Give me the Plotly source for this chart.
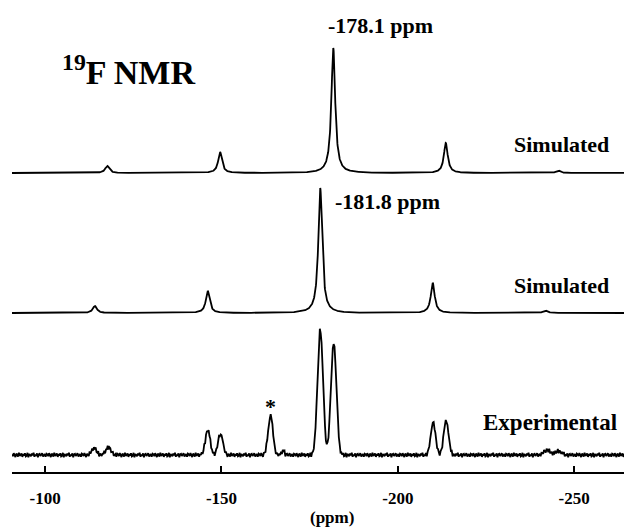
import numpy as np
import plotly.graph_objects as go

# ---- data ----
# Simulated spectrum 1 (top): peak positions (ppm), intensities (rel.), half-widths (ppm)
top_pos = [-117.6, -149.6, -181.7, -213.6, -245.5]
top_int = [5.6, 16.8, 100.0, 24.0, 2.0]
top_hw = [0.7, 0.65, 0.65, 0.65, 0.7]

# Simulated spectrum 2 (middle)
mid_pos = [-114.1, -146.1, -178.0, -209.9, -241.8]
mid_int = [5.6, 17.6, 100.0, 24.0, 2.0]
mid_hw = [0.7, 0.65, 0.65, 0.65, 0.7]

# Experimental spectrum (bottom)
exp_pos = [-113.9, -117.9, -146.1, -149.7, -163.9, -167.5, -178.0, -181.8, -210.0, -213.7, -242.3, -245.5]
exp_int = [5.6, 6.4, 20.0, 16.8, 32.0, 4.0, 100.8, 90.4, 26.4, 27.2, 4.0, 3.2]
exp_fwhm = [1.6, 1.6, 1.6, 1.6, 1.6, 0.8, 1.8, 1.8, 1.6, 1.6, 2.0, 2.0]
# baseline jitter of the experimental trace (rel. units), read roughly
exp_jitter = [0.6, -0.9, 1.5, -0.4, -1.7, 1.0, 0.3, -1.3, 1.9, -0.7, 0.0, 1.2, -1.5, 0.7,
              -0.3, 1.4, -1.1, -0.6, 1.7, -1.8, 0.8, 0.1, -1.0, 1.1, -0.2, 1.8, -1.4, 0.4,
              -0.7, 1.3, -1.9, 0.6, 1.0, -0.8, 0.3, 1.5, -1.2, -0.3, 0.7, -1.4, 1.1]

offsets = {"top": 239.2, "mid": 127.2, "exp": 13.6}   # vertical stacking (rel. units)
tick_vals = [-100, -150, -200, -250]
tick_text = ["-100", "-150", "-200", "-250"]
x_range = [-90.6, -266.4]

# ---- build traces ----
x_fine = np.linspace(x_range[0], x_range[1], 3000)
x_exp = np.linspace(x_range[0], x_range[1], 720)

def lorentz_sum(x, pos, inten, hw):
    y = np.zeros_like(x)
    for p, a, w in zip(pos, inten, hw):
        y += a / (1.0 + ((x - p) / w) ** 2)
    return y

def gauss_sum(x, pos, inten, fwhm):
    y = np.zeros_like(x)
    for p, a, f in zip(pos, inten, fwhm):
        s = f / 2.3548
        y += a * np.exp(-0.5 * ((x - p) / s) ** 2)
    return y

y_top = lorentz_sum(x_fine, top_pos, top_int, top_hw) + offsets["top"]
y_mid = lorentz_sum(x_fine, mid_pos, mid_int, mid_hw) + offsets["mid"]
y_exp = (gauss_sum(x_exp, exp_pos, exp_int, exp_fwhm)
         + np.resize(np.array(exp_jitter), x_exp.size) + offsets["exp"])

fig = go.Figure()
for xx, yy in ((x_fine, y_top), (x_fine, y_mid), (x_exp, y_exp)):
    fig.add_trace(go.Scatter(x=xx, y=yy, mode="lines",
                             line=dict(color="black", width=1.8), showlegend=False,
                             hoverinfo="skip"))

FONT = "Liberation Serif"
# the page body adds an 8 px margin, so the figure sits at (8, 8) in the window
OFF = 8
L, R, T, B = 12, 632, 8, 472      # plot area in window pixels
W_FIG, H_FIG = 632 - OFF, 529 - OFF

def px(xp):
    return (xp - L) / (R - L)

def py(yp):
    return (B - yp) / (B - T)

def txt(text, xp, yp, size, xanchor="center"):
    fig.add_annotation(x=px(xp), y=py(yp), xref="paper", yref="paper", text=text,
                       showarrow=False, xanchor=xanchor, yanchor="middle",
                       font=dict(family=FONT, size=size, color="black", weight="bold"))

txt("<sup>19</sup>F NMR", 60, 70, 34, xanchor="left")
txt("-178.1 ppm", 380, 25, 22)
txt("-181.8 ppm", 387, 201, 22)
txt("Simulated", 611, 145, 22, xanchor="right")
txt("Simulated", 611, 285, 22, xanchor="right")
txt("Experimental", 619, 422, 23, xanchor="right")
txt("*", 270, 406, 22)
txt("(ppm)", 332, 518, 17)

fig.update_layout(
    width=W_FIG, height=H_FIG,
    margin=dict(l=L - OFF, r=0, t=T - OFF, b=H_FIG - (B - OFF)),
    paper_bgcolor="white", plot_bgcolor="white",
    xaxis=dict(range=x_range, tickvals=tick_vals, ticktext=tick_text,
               ticks="inside", ticklen=6, tickwidth=1.5, tickcolor="black",
               showline=True, linecolor="black", linewidth=1.5,
               showgrid=False, zeroline=False, ticklabelstandoff=10,
               tickfont=dict(family=FONT, size=17, color="black", weight="bold")),
    yaxis=dict(range=[0, (B - T) / 1.25], visible=False, showgrid=False, zeroline=False),
)

fig.write_html("out.html")
